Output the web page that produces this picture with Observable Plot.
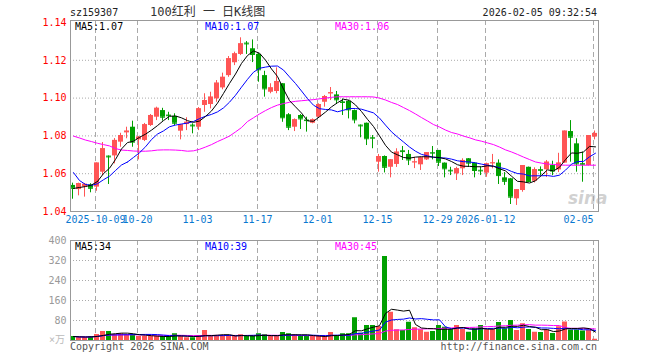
<!DOCTYPE html>
<html><head><meta charset="utf-8">
<script src="https://cdn.jsdelivr.net/npm/d3@7"></script>
<script src="https://cdn.jsdelivr.net/npm/@observablehq/plot@0.6"></script>
<style>
html,body{margin:0;padding:0;background:#fff;}
#wrap{position:relative;width:660px;height:360px;overflow:hidden;background:#fff;}
.t{position:absolute;white-space:pre;font-family:"DejaVu Sans Mono",monospace;font-size:10px;line-height:10px;z-index:5;}
</style></head><body><div id="wrap"></div>
<script>
const dates = ["2025-09-25","2025-09-26","2025-09-29","2025-09-30","2025-10-09","2025-10-10","2025-10-13","2025-10-14","2025-10-15","2025-10-16",
"2025-10-17","2025-10-20","2025-10-21","2025-10-22","2025-10-23","2025-10-24","2025-10-27","2025-10-28","2025-10-29","2025-10-30",
"2025-10-31","2025-11-03","2025-11-04","2025-11-05","2025-11-06","2025-11-07","2025-11-10","2025-11-11","2025-11-12","2025-11-13",
"2025-11-14","2025-11-17","2025-11-18","2025-11-19","2025-11-20","2025-11-21","2025-11-24","2025-11-25","2025-11-26","2025-11-27",
"2025-11-28","2025-12-01","2025-12-02","2025-12-03","2025-12-04","2025-12-05","2025-12-08","2025-12-09","2025-12-10","2025-12-11",
"2025-12-12","2025-12-15","2025-12-16","2025-12-17","2025-12-18","2025-12-19","2025-12-22","2025-12-23","2025-12-24","2025-12-25",
"2025-12-26","2025-12-29","2025-12-30","2025-12-31","2026-01-05","2026-01-06","2026-01-07","2026-01-08","2026-01-09","2026-01-12",
"2026-01-13","2026-01-14","2026-01-15","2026-01-16","2026-01-19","2026-01-20","2026-01-21","2026-01-22","2026-01-23","2026-01-26",
"2026-01-27","2026-01-28","2026-01-29","2026-01-30","2026-02-02","2026-02-03","2026-02-04","2026-02-05"];

const open = [1.0538,1.0516,1.0529,1.0541,1.0529,1.0608,1.0693,1.0694,1.0767,1.0816,
1.0846,1.0779,1.0776,1.0855,1.0899,1.0934,1.0910,1.0903,1.0825,1.0860,
1.0857,1.0846,1.0961,1.0966,1.0996,1.1054,1.1119,1.1187,1.1231,1.1291,
1.1261,1.1231,1.1119,1.1031,1.1035,1.1076,1.0912,1.0846,1.0908,1.0884,
1.0867,1.0899,1.0978,1.1023,1.1017,1.0980,1.0983,1.0934,1.0857,1.0867,
1.0791,1.0661,1.0691,1.0634,1.0649,1.0721,1.0702,1.0659,1.0647,1.0673,
1.0712,1.0723,1.0656,1.0618,1.0599,1.0626,1.0679,1.0656,1.0618,1.0603,
1.0654,1.0656,1.0578,1.0573,1.0467,1.0511,1.0634,1.0560,1.0622,1.0621,
1.0643,1.0620,1.0656,1.0823,1.0758,1.0654,1.0643,1.0794];

const close = [1.0523,1.0548,1.0544,1.0523,1.0656,1.0732,1.0689,1.0776,1.0802,1.0825,
1.0767,1.0793,1.0859,1.0908,1.0946,1.0899,1.0907,1.0867,1.0859,1.0872,
1.0853,1.0943,1.0987,1.1005,1.1079,1.1110,1.1208,1.1234,1.1287,1.1287,
1.1231,1.1150,1.1049,1.1054,1.1088,1.0896,1.0846,1.0885,1.0890,1.0881,
1.0885,1.0966,1.1008,1.1028,1.0991,1.0977,1.0938,1.0885,1.0853,1.0785,
1.0788,1.0691,1.0634,1.0673,1.0714,1.0717,1.0673,1.0662,1.0684,1.0711,
1.0709,1.0661,1.0626,1.0615,1.0626,1.0670,1.0656,1.0617,1.0615,1.0652,
1.0657,1.0590,1.0560,1.0476,1.0515,1.0643,1.0559,1.0621,1.0618,1.0661,
1.0614,1.0656,1.0825,1.0793,1.0652,1.0650,1.0802,1.0813];

const high = [1.0550,1.0550,1.0548,1.0547,1.0657,1.0765,1.0694,1.0786,1.0814,1.0846,
1.0878,1.0797,1.0866,1.0913,1.0952,1.0946,1.0925,1.0917,1.0860,1.0896,
1.0864,1.0950,1.1023,1.1031,1.1093,1.1132,1.1220,1.1243,1.1319,1.1299,
1.1308,1.1236,1.1142,1.1076,1.1160,1.1077,1.0918,1.0890,1.0913,1.0899,
1.0890,1.0970,1.1014,1.1056,1.1035,1.0996,1.0987,1.0937,1.0858,1.0868,
1.0802,1.0702,1.0694,1.0675,1.0732,1.0744,1.0723,1.0686,1.0686,1.0712,
1.0744,1.0723,1.0657,1.0634,1.0634,1.0679,1.0680,1.0657,1.0634,1.0656,
1.0702,1.0673,1.0606,1.0575,1.0516,1.0643,1.0635,1.0631,1.0636,1.0670,
1.0666,1.0708,1.0826,1.0881,1.0785,1.0714,1.0802,1.0826];

const low = [1.0465,1.0483,1.0476,1.0499,1.0507,1.0590,1.0543,1.0652,1.0740,1.0785,
1.0740,1.0673,1.0770,1.0850,1.0881,1.0878,1.0881,1.0855,1.0779,1.0828,
1.0811,1.0828,1.0925,1.0943,1.0978,1.1044,1.1110,1.1172,1.1225,1.1231,
1.1188,1.1084,1.1005,1.1023,1.1023,1.0872,1.0828,1.0823,1.0834,1.0820,
1.0864,1.0897,1.0952,1.0987,1.0966,1.0908,1.0890,1.0864,1.0790,1.0749,
1.0732,1.0608,1.0604,1.0578,1.0633,1.0670,1.0643,1.0627,1.0617,1.0670,
1.0673,1.0638,1.0578,1.0590,1.0564,1.0590,1.0634,1.0578,1.0590,1.0581,
1.0626,1.0543,1.0538,1.0437,1.0432,1.0502,1.0553,1.0551,1.0590,1.0580,
1.0590,1.0606,1.0654,1.0661,1.0608,1.0555,1.0641,1.0779];

const volume = [16,13,13,16,24,36,36,24,27,24,
24,16,16,16,16,16,16,27,16,11,
11,20,40,16,20,20,20,16,23,16,
16,27,23,16,16,32,27,23,16,16,
16,16,16,32,20,27,27,91,29,60,
60,56,336,113,43,40,73,51,43,33,
36,60,53,43,60,44,33,47,60,43,
43,72,47,80,40,67,44,33,32,42,
28,55,74,42,42,38,42,5];

// MA30 of price
const ma30 = [1.0799,1.0789,1.0778,1.0770,1.0761,1.0754,1.0747,1.0733,1.0725,1.0723,
1.0720,1.0719,1.0719,1.0721,1.0725,1.0726,1.0726,1.0725,1.0723,1.0719,
1.0721,1.0729,1.0741,1.0754,1.0770,1.0784,1.0799,1.0821,1.0844,1.0876,
1.0896,1.0916,1.0934,1.0950,1.0963,1.0971,1.0978,1.0983,1.0986,1.0989,
1.0992,1.0996,1.1000,1.1004,1.1007,1.1007,1.1007,1.1007,1.1007,1.1007,
1.1006,1.1000,1.0990,1.0977,1.0966,1.0950,1.0934,1.0916,1.0897,1.0879,
1.0860,1.0847,1.0831,1.0818,1.0810,1.0799,1.0790,1.0779,1.0772,1.0763,
1.0754,1.0741,1.0726,1.0715,1.0702,1.0688,1.0675,1.0662,1.0656,1.0651,
1.0649,1.0646,1.0645,1.0645,1.0645,1.0645,1.0645,1.0645];
// start of MA5 / MA10 (before a full window of visible closes)
const ma5Lead = [1.0522,1.0527,1.0532,1.0540,1.0559];
const ma10Lead = [1.0606,1.0564,1.0543,1.0538,1.0547,1.0568,1.0587,1.0617,1.0646,1.0662];

const priceTicks = [1.04,1.06,1.08,1.10,1.12,1.14];
const priceGrid = [1.06,1.08,1.10,1.12];
const volTicks = [80,160,240,320,400];
const volGrid = [80,160,240,320];
const tickDates = ["2025-10-09","2025-10-20","2025-11-03","2025-11-17","2025-12-01","2025-12-15","2025-12-29","2026-01-12","2026-02-05"];
const tickLabels = ["2025-10-09","10-20","11-03","11-17","12-01","12-15","12-29","2026-01-12","02-05"];
const priceMaLabels = ["MA5:1.07","MA10:1.07","MA30:1.06"];
const volMaLabels = ["MA5:34","MA10:39","MA30:45"];
const maColors = ["#000000","#0000ff","#ff00ff"];

const RED = "#ff5555", GREEN = "#00a000";
const rows = dates.map((d,i)=>({date:d, open:open[i], high:high[i], low:low[i], close:close[i], vol:volume[i], ma30:ma30[i]}));
const col = d => d.close >= d.open ? RED : GREEN;
const lead5 = ma5Lead.map((v,i)=>({date:dates[i], v}));
const lead10 = ma10Lead.map((v,i)=>({date:dates[i], v}));

const fontStyle = {fontFamily:"DejaVu Sans Mono, monospace", fontSize:"10px", background:"#fff", overflow:"visible"};

const main = Plot.plot({
  width:660, height:232, marginLeft:70, marginRight:62, marginTop:20, marginBottom:21,
  style:fontStyle,
  x:{type:"band", domain:dates, padding:0, axis:null},
  y:{domain:[1.04, 1.14106]},
  color:{type:"identity"},
  marks:[
    Plot.ruleY(priceGrid, {stroke:"#aaaaaa", strokeDasharray:"1,2"}),
    Plot.ruleX(tickDates, {stroke:"#aaaaaa", strokeDasharray:"5,3", dx:-2}),
    Plot.ruleX(rows, {x:"date", y1:"low", y2:"high", stroke:col, dx:-1}),
    Plot.barY(rows, {x:"date", y1:"open", y2:"close", fill:col, insetLeft:0, insetRight:1}),
    Plot.tickY(rows, {x:"date", y:"close", stroke:col, insetLeft:0, insetRight:1}),
    Plot.line(rows, {x:"date", y:"ma30", stroke:"#ff00ff", strokeWidth:1}),
    Plot.line(lead10, {x:"date", y:"v", stroke:"#0000ff", strokeWidth:1}),
    Plot.line(rows, Plot.windowY({k:10, anchor:"end", strict:true}, {x:"date", y:"close", stroke:"#0000ff", strokeWidth:1})),
    Plot.line(lead5, {x:"date", y:"v", stroke:"#000000", strokeWidth:1}),
    Plot.line(rows, Plot.windowY({k:5, anchor:"end", strict:true}, {x:"date", y:"close", stroke:"#000000", strokeWidth:1})),
    Plot.frame({stroke:"#999999"}),
    Plot.axisY({ticks:priceTicks, tickSize:0, tickPadding:4, tickFormat:d3.format(".2f"), color:"#ff0000", label:null}),
    Plot.text(tickDates.slice(0,-1), {x:d=>d, text:(d,i)=>tickLabels[i], frameAnchor:"bottom", dy:11, dx:-2, fill:"#0a78d0"}),
    Plot.text(tickDates.slice(-1), {x:d=>d, text:()=>tickLabels[tickLabels.length-1], frameAnchor:"bottom", dy:11, dx:-2, textAnchor:"end", fill:"#0a78d0"})
  ]
});

const vol = Plot.plot({
  width:660, height:128, marginLeft:70, marginRight:62, marginTop:8, marginBottom:20,
  style:fontStyle,
  x:{type:"band", domain:dates, padding:0, axis:null},
  y:{domain:[0,400]},
  color:{type:"identity"},
  marks:[
    Plot.ruleY(volGrid, {stroke:"#aaaaaa", strokeDasharray:"1,2"}),
    Plot.ruleX(tickDates, {stroke:"#aaaaaa", strokeDasharray:"5,3", dx:-2}),
    Plot.barY(rows, {x:"date", y:"vol", fill:col, insetLeft:0, insetRight:1}),
    Plot.line(rows, Plot.windowY({k:30, anchor:"end"}, {x:"date", y:"vol", stroke:"#ff00ff", strokeWidth:1})),
    Plot.line(rows, Plot.windowY({k:10, anchor:"end"}, {x:"date", y:"vol", stroke:"#0000ff", strokeWidth:1})),
    Plot.line(rows, Plot.windowY({k:5, anchor:"end"}, {x:"date", y:"vol", stroke:"#000000", strokeWidth:1})),
    Plot.frame({stroke:"#999999"}),
    Plot.axisY({ticks:volTicks, tickSize:0, tickPadding:4, tickFormat:d=>String(d), color:"#999999", label:null})
  ]
});

const wrap = document.getElementById("wrap");
main.style.position = "absolute"; main.style.left = "0px"; main.style.top = "0px";
vol.style.position = "absolute"; vol.style.left = "0px"; vol.style.top = "232px";
wrap.appendChild(main);
wrap.appendChild(vol);

function addText(txt, opts) {
  const s = document.createElement("span");
  s.className = "t";
  s.textContent = txt;
  Object.assign(s.style, opts);
  wrap.appendChild(s);
  return s;
}
addText("sz159307", {left:"70px", top:"8px", color:"#222"});
addText("100红利 一 日K线图", {left:"150px", top:"6px", fontSize:"12px", lineHeight:"12px", color:"#333", fontFamily:'"DejaVu Sans Mono","Noto Sans CJK SC",monospace'});
addText("2026-02-05 09:32:54", {right:"63px", top:"8px", color:"#222"});
const maX = [75, 205, 335];
priceMaLabels.forEach((t,i)=>addText(t, {left:maX[i]+"px", top:"21.5px", color:maColors[i]}));
volMaLabels.forEach((t,i)=>addText(t, {left:maX[i]+"px", top:"241.5px", color:maColors[i]}));
addText("Copyright 2026 SINA.COM", {left:"70px", top:"341.5px", color:"#555"});
addText("http://finance.sina.com.cn", {right:"63px", top:"341.5px", color:"#555"});
addText("×万", {left:"49px", top:"335px", color:"#bbb", fontFamily:'"DejaVu Sans Mono","Noto Sans CJK SC",monospace'});
addText("sina", {left:"568px", top:"190px", fontSize:"17px", lineHeight:"17px", fontWeight:"bold", fontStyle:"italic", color:"rgba(170,170,170,0.55)", fontFamily:"DejaVu Sans, sans-serif", zIndex:1});
</script></body></html>
